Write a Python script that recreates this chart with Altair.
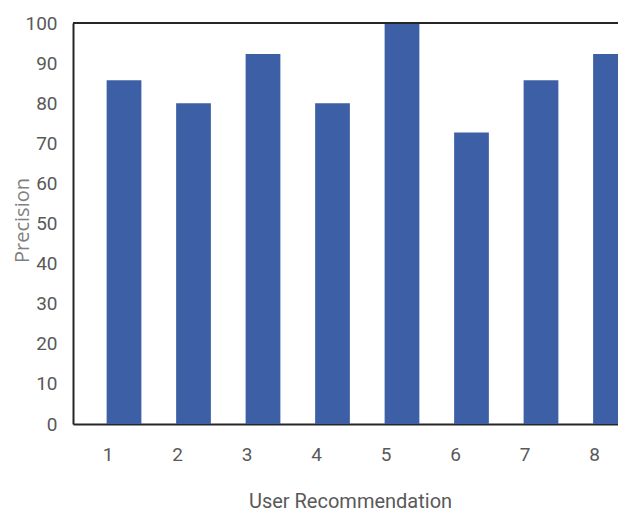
import altair as alt
import pandas as pd

categories = ["1", "2", "3", "4", "5", "6", "7", "8"]
precision = [85.7, 80.0, 92.3, 80.0, 100.0, 72.7, 85.7, 92.3]
y_ticks = [0, 10, 20, 30, 40, 50, 60, 70, 80, 90, 100]

df = pd.DataFrame({"rec": categories, "precision": precision})

LABEL_FONT = "Roboto, sans-serif"

PLOT_W = 545
PLOT_H = 401

x_enc = alt.X(
    "rec:O",
    sort=categories,
    scale=alt.Scale(range=[0, 588.5], paddingInner=0.5, paddingOuter=0.484),
    axis=alt.Axis(
        title="User Recommendation",
        labelAngle=0,
        labelFont=LABEL_FONT,
        labelFontSize=19,
        labelColor="#595959",
        labelPadding=21,
        labelOffset=-16,
        ticks=False,
        domainColor="#262626",
        domainWidth=2,
        titleFont=LABEL_FONT,
        titleFontSize=20,
        titleFontWeight="normal",
        titleColor="#595959",
        titlePadding=27,
        titleX=277,
    ),
)

y_scale = alt.Scale(domain=[0, 100], nice=False)

bars = alt.Chart(df).mark_bar(color="#3c5fa6", clip=True).encode(
    x=x_enc,
    y=alt.Y(
        "precision:Q",
        scale=y_scale,
        axis=alt.Axis(
            title="Precision",
            values=y_ticks,
            grid=False,
            ticks=False,
            labelFont=LABEL_FONT,
            labelFontSize=19,
            labelColor="#595959",
            labelPadding=16,
            domainColor="#262626",
            domainWidth=2,
            titleFont="Open Sans",
            titleFontSize=20,
            titleFontWeight="normal",
            titleColor="#808080",
            titleAngle=270,
            titleAlign="center",
            titleBaseline="middle",
            titleX=-51,
            titleY=197,
        ),
    ),
)

top_line = alt.Chart(pd.DataFrame({"v": [100]})).mark_rule(
    color="#262626", strokeWidth=2
).encode(y=alt.Y("v:Q", scale=y_scale))

chart = (
    alt.layer(bars, top_line)
    .properties(
        width=PLOT_W,
        height=PLOT_H,
        autosize="none",
        padding={"left": 65, "top": 15, "right": 0, "bottom": 90},
    )
    .configure_view(stroke=None)
    .configure(background="white")
)

chart.save("out.html", embed_options={"renderer": "svg", "actions": False})
